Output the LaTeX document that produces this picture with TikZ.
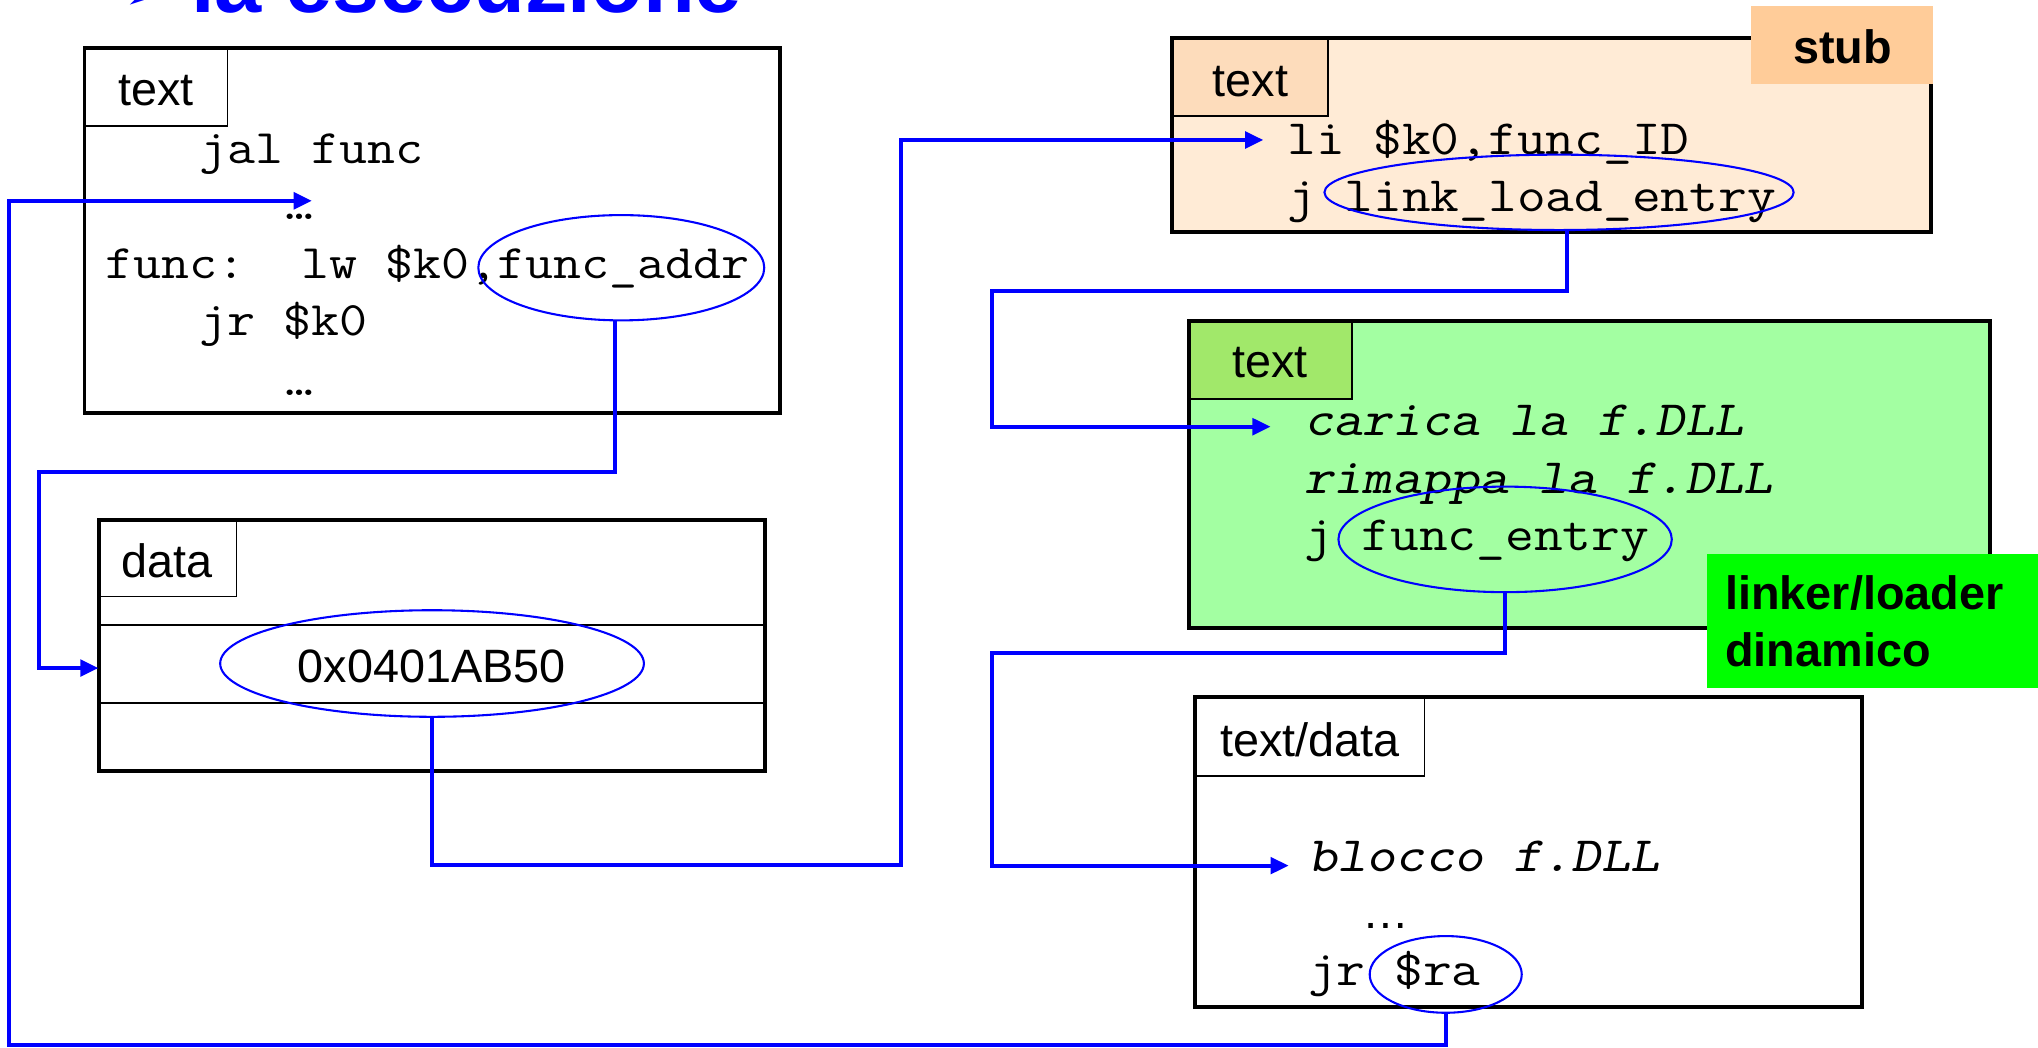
\documentclass[tikz,border=0pt]{standalone}
\usepackage{fontspec}
\usepackage{graphicx}
\setmainfont{Liberation Sans}
\newfontfamily\symfont{DejaVu Sans}
\usetikzlibrary{arrows.meta,shapes.geometric}

\definecolor{peachbg}{HTML}{FFEBD6}
\definecolor{peachtab}{HTML}{FDDCBB}
\definecolor{stubcol}{HTML}{FFCC99}
\definecolor{greenbg}{HTML}{A3FFA2}
\definecolor{greentab}{HTML}{A1E86A}
\definecolor{loadercol}{HTML}{00FF00}
\definecolor{linkblue}{HTML}{0000FF}

% monospaced code, widened a little to the Courier pitch
\newcommand\cw[1]{\scalebox{1.13}[1]{#1}}

\begin{document}
\begin{tikzpicture}[x=0.5pt,y=-0.5pt,
  segbox/.style={anchor=north west,inner sep=0pt,outer sep=0pt,draw=none},
  tabbox/.style={anchor=north west,inner sep=0pt,outer sep=0pt,draw=black,line width=0.7pt,minimum height=30pt},
  border/.style={draw=black,line width=1.5pt},
  label/.style={anchor=base,inner sep=0pt,font=\fontsize{18}{21.6}\selectfont},
  codeL/.style={anchor=base west,inner sep=0pt,font=\fontsize{18.5}{22}\selectfont\ttfamily},
  codeR/.style={anchor=base west,inner sep=0pt,font=\fontsize{19}{22}\selectfont\ttfamily},
  codeRi/.style={codeR,font=\fontsize{19}{22}\selectfont\ttfamily\slshape},
  ring/.style={draw=linkblue,line width=0.8pt,ellipse,inner sep=0pt,outer sep=0pt},
  conn/.style={draw=linkblue,line width=1.6pt,-{Triangle[length=7pt,width=6.3pt]}},
  tag/.style={anchor=north west,inner sep=0pt,outer sep=0pt},
]
\clip (0,0) rectangle (1568,806);

% title line, running off the top edge
\node[anchor=base west,inner sep=0pt,text=linkblue,font=\fontsize{30}{30}\selectfont\symfont\bfseries] (arrowmark) at (93,10) {➢};
\node[anchor=base west,inner sep=0pt,text=linkblue,font=\fontsize{32.6}{34}\selectfont\bfseries] (title) at (146.6,10) {la esecuzione};

% ---- caller text segment ----
\node[segbox,minimum width=267.5pt,minimum height=140.5pt] (boxA) at (65,37) {};
\node[tabbox,minimum width=55pt] (tabA) at (65,37) {};
\draw[border] (boxA.north west) rectangle (boxA.south east);
\node[label] (tabAtxt) at (120,81.5) {text};
\node[codeL] (a1) at (153,126) {\cw{jal func}};
\node[codeL] (a2) at (219,169) {\cw{\textellipsis}};
\node[codeL] (a3) at (81,214) {\cw{func:\ \ lw \$k0,func\_addr}};
\node[codeL] (a4) at (153,258.5) {\cw{jr \$k0}};
\node[codeL] (a5) at (219,304) {\cw{\textellipsis}};

% ---- data segment ----
\node[segbox,minimum width=256.25pt,minimum height=96.5pt] (boxB) at (76,400) {};
\node[tabbox,minimum width=53pt,minimum height=29.5pt] (tabB) at (76,400) {};
\draw[border] (boxB.north west) rectangle (boxB.south east);
\draw[line width=0.7pt] (boxB.west |- 0,481) -- (boxB.east |- 0,481);
\draw[line width=0.7pt] (boxB.west |- 0,541) -- (boxB.east |- 0,541);
\node[label] (tabBtxt) at (128.8,444.7) {data};
\node[label] (val) at (332.3,525.4) {0x0401AB50};

% ---- stub ----
\node[segbox,fill=peachbg,minimum width=292pt,minimum height=74.75pt] (boxC) at (902,29) {};
\node[tabbox,fill=peachtab,minimum width=60pt] (tabC) at (902,29) {};
\draw[border] (boxC.north west) rectangle (boxC.south east);
\node[label] (tabCtxt) at (962,74.4) {text};
\node[codeR] (c1) at (990,118.5) {\cw{li \$k0,func\_ID}};
\node[codeR] (c2) at (990,163) {\cw{j link\_load\_entry}};
\node[tag,fill=stubcol,minimum width=70pt,minimum height=29.8pt] (stub) at (1347,5) {};
\node[label,font=\fontsize{18}{21.6}\selectfont\bfseries] (stubtxt) at (1417.5,49) {stub};

% ---- dynamic linker/loader ----
\node[segbox,fill=greenbg,minimum width=308.25pt,minimum height=118.35pt] (boxD) at (914.5,246.7) {};
\node[tabbox,fill=greentab,minimum width=62.75pt] (tabD) at (914.5,246.7) {};
\draw[border] (boxD.north west) rectangle (boxD.south east);
\node[label] (tabDtxt) at (977,290.6) {text};
\node[codeRi] (d1) at (1003,334.7) {\cw{carica la f.DLL}};
\node[codeRi] (d2) at (1003,379.6) {\cw{rimappa la f.DLL}};
\node[codeR] (d3) at (1003,423.7) {\cw{j func\_entry}};
\node[tag,fill=loadercol,minimum width=127.5pt,minimum height=51.65pt] (loader) at (1313,426.3) {};
\node[anchor=base west,inner sep=0pt,font=\fontsize{18}{21.6}\selectfont\bfseries] (ld1) at (1327,469.3) {linker/loader};
\node[anchor=base west,inner sep=0pt,font=\fontsize{18}{21.6}\selectfont\bfseries] (ld2) at (1327,513) {dinamico};

% ---- shared library block ----
\node[segbox,minimum width=256.6pt,minimum height=119pt] (boxE) at (919.7,536.5) {};
\node[tabbox,minimum width=88.15pt,minimum height=30.25pt] (tabE) at (919.7,536.5) {};
\draw[border] (boxE.north west) rectangle (boxE.south east);
\node[label] (tabEtxt) at (1007.9,581.7) {text/data};
\node[codeRi] (e1) at (1006,670.7) {\cw{blocco f.DLL}};
\node[anchor=base west,inner sep=0pt,font=\fontsize{18}{21.6}\selectfont] (e2) at (1048,714.3) {…};
\node[codeR] (e3) at (1006,757.9) {\cw{jr \$ra}};

% ---- highlighted operands ----
\node[ring,minimum width=110pt,minimum height=40.5pt] (eAddr) at (478,206) {};
\node[ring,minimum width=163pt,minimum height=41pt] (eVal) at (332.4,510.5) {};
\node[ring,minimum width=180.5pt,minimum height=29pt] (eLink) at (1199.5,148) {};
\node[ring,minimum width=128.25pt,minimum height=40.6pt] (eEntry) at (1158,415) {};
\node[ring,minimum width=58.5pt,minimum height=29.5pt] (eRa) at (1112.3,749.7) {};

% ---- control flow ----
\coordinate (inA) at (240,154.5);
\coordinate (inB) at (75.8,514);
\coordinate (inC) at (972,107.7);
\coordinate (inD) at (977.6,328.3);
\coordinate (inE) at (991.5,666);
\coordinate (kA) at (30,363);
\coordinate (kB) at (693,665.5);
\coordinate (kC) at (763,223.7);
\coordinate (kD) at (763,502.7);
\coordinate (kE) at (7,804);

\draw[conn] ([xshift=-2.5pt]eAddr.south) |- (kA) |- (inB);
\draw[conn] (eVal.south) |- (kB) |- (inC);
\draw[conn] ([xshift=3pt]eLink.south) |- (kC) |- (inD);
\draw[conn] (eEntry.south) |- (kD) |- (inE);
\draw[conn] (eRa.south) |- (kE) |- (inA);
\end{tikzpicture}
\end{document}
